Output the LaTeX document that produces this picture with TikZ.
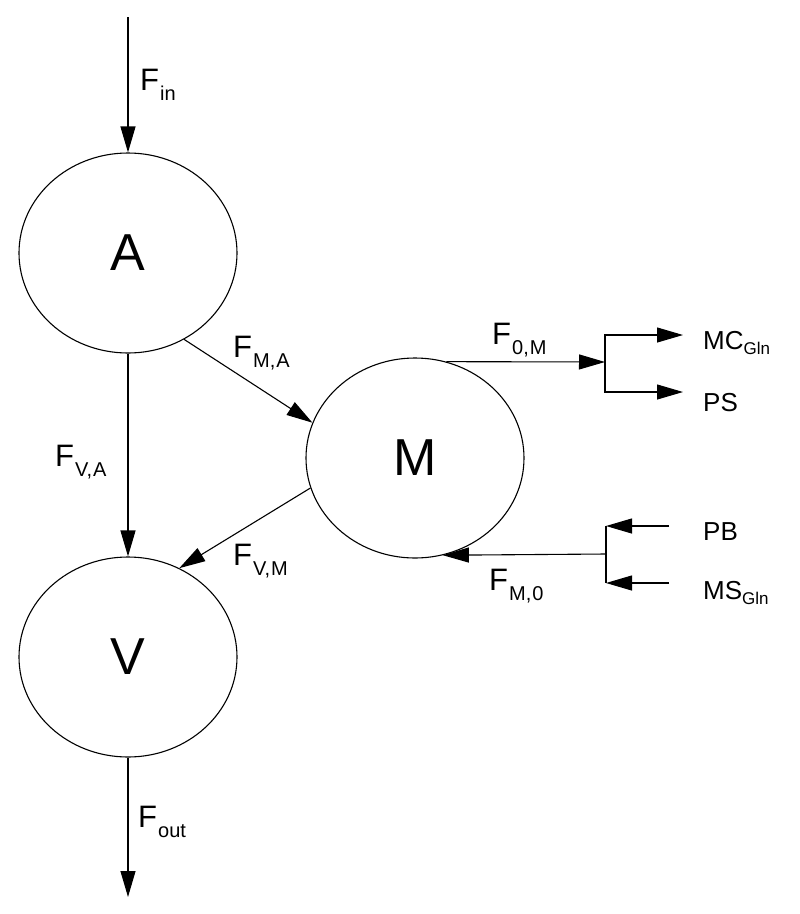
\documentclass[tikz,border=0pt]{standalone}
\usepackage{fontspec}
\setmainfont{Liberation Sans}
\usetikzlibrary{shapes.geometric,arrows.meta}
\tikzstyle{pool}=[draw,ellipse,minimum width=218pt,minimum height=200pt,inner sep=0pt,line width=1.1pt,font=\fontsize{52}{60}\selectfont]
\tikzstyle{flow}=[line width=1.1pt,-{Triangle[length=26pt,width=15pt]}]
\tikzstyle{flux}=[anchor=base west,inner sep=0pt,font=\fontsize{31}{36}\selectfont]
\tikzstyle{fate}=[anchor=base west,inner sep=0pt,font=\fontsize{26}{30}\selectfont]
\newcommand{\fsub}[1]{\kern1pt\raisebox{-10pt}{\fontsize{20}{22}\selectfont #1}}
\newcommand{\gsub}[1]{\raisebox{-5pt}{\fontsize{17}{20}\selectfont #1}}

\begin{document}
\begin{tikzpicture}[x=1pt,y=-1pt]
\useasboundingbox (0,0) rectangle (800,914);

%pools
\node[pool] (A) at (128,253) {A};
\node[pool] (M) at (415,458) {M};
\node[pool] (V) at (128,657) {V};

%free ends and branch points
\coordinate (fin) at (128,17);
\coordinate (fout) at (128,897);
\coordinate (outsplit) at (605,362);
\coordinate (insplit) at (606,554);
\coordinate (mcend) at (683,335);
\coordinate (psend) at (683,392);
\coordinate (pbstart) at (669,526);
\coordinate (msstart) at (669,583);

%flows
\draw[flow] (fin) -- (A);
\draw[flow] (A) -- (V);
\draw[flow] (A.-57) -- (M.161);
\draw[flow] (M.196) -- (V.60);
\draw[flow] (V) -- (fout);
\draw[flow] (M.72) -- (outsplit);
\draw[flow] (outsplit) |- (mcend);
\draw[flow] (outsplit) |- (psend);
\draw[flow] (pbstart) -- (pbstart -| insplit);
\draw[flow] (msstart) -- (msstart -| insplit);
\draw[line width=1.1pt] (pbstart -| insplit) -- (msstart -| insplit);
\draw[flow] (insplit) -- (M.-74);

%labels
\node[flux] (lin) at (140,90) {F\fsub{in}};
\node[flux] (lma) at (233,357) {F\fsub{M,\kern1pt A}};
\node[flux] (lva) at (55,466) {F\fsub{V,\kern1pt A}};
\node[flux] (lvm) at (233,565) {F\fsub{V,\kern1pt M}};
\node[flux] (lom) at (492,344) {F\fsub{0,\kern1pt M}};
\node[flux] (lmo) at (489,590) {F\fsub{M,\kern1pt 0}};
\node[flux] (lout) at (138,827) {F\fsub{out}};
\node[fate] (mc) at (703,349) {MC\gsub{Gln}};
\node[fate] (ps) at (703,411) {PS};
\node[fate] (pb) at (703,540) {PB};
\node[fate] (ms) at (703,599) {MS\gsub{Gln}};

\end{tikzpicture}
\end{document}
